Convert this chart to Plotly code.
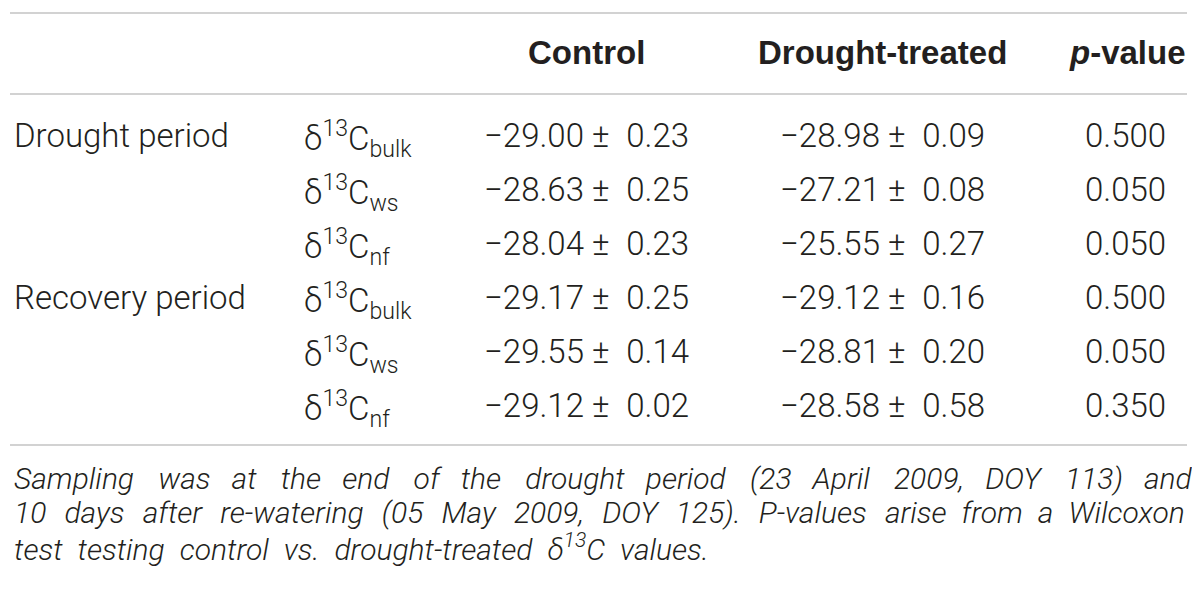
import plotly.graph_objects as go

# table content
header = ["Control", "Drought-treated", "<i>p</i>-value"]
periods = ["Drought period", "", "", "Recovery period", "", ""]
isotopes = ["δ<sup>13</sup>C<sub>bulk</sub>", "δ<sup>13</sup>C<sub>ws</sub>", "δ<sup>13</sup>C<sub>nf</sub>",
            "δ<sup>13</sup>C<sub>bulk</sub>", "δ<sup>13</sup>C<sub>ws</sub>", "δ<sup>13</sup>C<sub>nf</sub>"]
control_mean = [-29.00, -28.63, -28.04, -29.17, -29.55, -29.12]
control_sd = [0.23, 0.25, 0.23, 0.25, 0.14, 0.02]
drought_mean = [-28.98, -27.21, -25.55, -29.12, -28.81, -28.58]
drought_sd = [0.09, 0.08, 0.27, 0.16, 0.20, 0.58]
p_values = [0.500, 0.050, 0.050, 0.500, 0.050, 0.350]
footnote = [
    "Sampling was at the end of the drought period (23 April 2009, DOY 113) and",
    "10 days after re-watering (05 May 2009, DOY 125). P-values arise from a Wilcoxon",
    "test testing control vs. drought-treated δ<sup>13</sup>C values.",
]

W, H = 1200, 593
off = 8  # page body margin
txt = "#231f20"
rule = "#d2d2d2"
body_font = dict(family="Roboto", size=33, color=txt, weight=300)
head_font = dict(family="Liberation Sans", size=33, color=txt, weight="bold")
note_font = dict(family="Roboto", size=30, color=txt, weight=300, style="italic")

# column positions (px)
x_period = 12
x_iso = 302
x_ctrl = 586
x_drought = 882
x_p = 1168
head_y = 52
row0_y = 135
row_step = 54
note0_y = 478
note_step = 34.5
# word gaps used to fake the justified caption (Roboto runs narrower than the original face)
EN, THIN, HAIR = "\u2002", "\u2009", "\u200a"
note_gaps = [[EN + THIN + HAIR, EN + THIN] * 7, [EN + HAIR] * 10 + [EN] * 3, [EN]]


def fmt(v):
    return ("−" if v < 0 else "") + f"{abs(v):.2f}"


def pm(m, s):
    return f"{fmt(m)} ±{EN}{s:.2f}"


def justify(line, gaps):
    words = line.split(" ")
    out = words[0]
    for n, w in enumerate(words[1:]):
        out += gaps[min(n, len(gaps) - 1)] + w
    return out


ann = []
for h, x, xa in zip(header, [x_ctrl, x_drought, x_p + 20], ["center", "center", "right"]):
    ann.append(dict(x=x, y=head_y, text="<b>" + h + "</b>", xanchor=xa, yanchor="middle", font=head_font))

for i in range(len(isotopes)):
    y = row0_y + row_step * i
    if periods[i]:
        ann.append(dict(x=x_period, y=y, text=periods[i], xanchor="left", yanchor="middle", font=body_font))
    ann.append(dict(x=x_iso, y=y + 4, text=isotopes[i], xanchor="left", yanchor="middle", font=body_font))
    ann.append(dict(x=x_ctrl, y=y, text=pm(control_mean[i], control_sd[i]),
                    xanchor="center", yanchor="middle", font=body_font))
    ann.append(dict(x=x_drought, y=y, text=pm(drought_mean[i], drought_sd[i]),
                    xanchor="center", yanchor="middle", font=body_font))
    ann.append(dict(x=x_p, y=y, text=f"{p_values[i]:.3f}", xanchor="right", yanchor="middle", font=body_font))

for k, line in enumerate(footnote):
    ann.append(dict(x=x_period, y=note0_y + note_step * k, text=justify(line, note_gaps[k]),
                    xanchor="left", yanchor="middle", font=note_font))

for a in ann:
    a.update(xref="x", yref="y", showarrow=False)

shapes = [dict(type="line", xref="x", yref="y", x0=10, x1=1187, y0=yy, y1=yy,
               line=dict(color=rule, width=2)) for yy in [13, 94, 445]]

fig = go.Figure()
fig.update_layout(
    width=W, height=H,
    margin=dict(l=0, r=0, t=0, b=0),
    paper_bgcolor="white", plot_bgcolor="white",
    xaxis=dict(range=[off, W + off], visible=False, fixedrange=True),
    yaxis=dict(range=[H + off, off], visible=False, fixedrange=True),
    annotations=ann, shapes=shapes, showlegend=False,
)
fig.write_html("out.html", config={"displayModeBar": False})
